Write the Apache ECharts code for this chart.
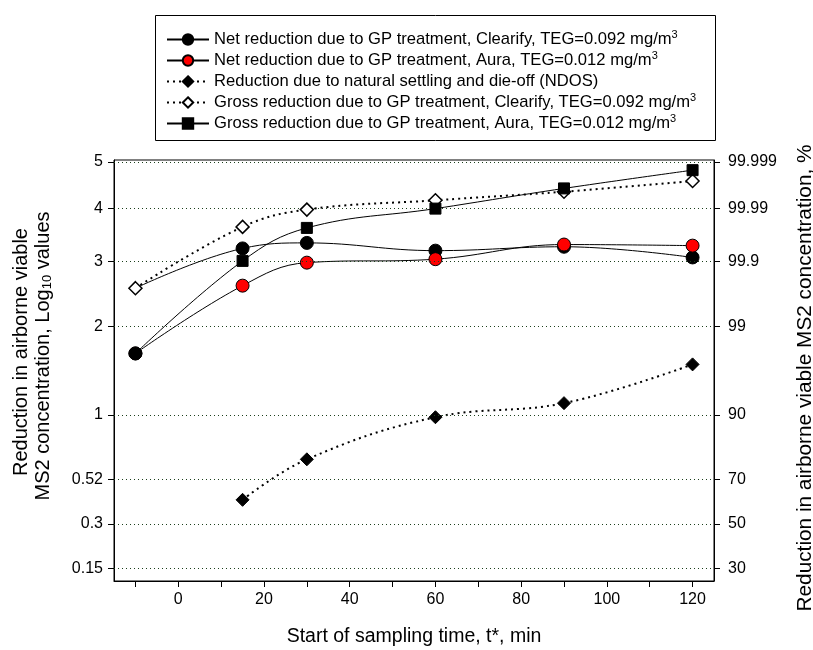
<!DOCTYPE html>
<html>
<head>
<meta charset="utf-8">
<script src="https://cdn.jsdelivr.net/npm/echarts@6/dist/echarts.min.js"></script>
<style>html,body{margin:0;padding:0;background:#fff;}#c{width:813px;height:650px;}</style>
</head>
<body>
<div id="c"></div>
<script>
// ---- data (log10 reduction values) ----
var times = [-10, 15, 30, 60, 90, 120];
var ndosTimes = [15, 30, 60, 90, 120];
var netClearify = [2.56, 3.23, 3.33, 3.19, 3.26, 3.07];
var netAura = [1.65, 2.60, 2.98, 3.04, 3.30, 3.28];
var ndos = [0.41, 0.65, 0.98, 1.11, 1.52];
var grossClearify = [2.56, 3.63, 3.97, 4.16, 4.34, 4.57];
var grossAura = [1.65, 3.01, 3.61, 3.99, 4.41, 4.81];

var xTicks = [-10, 0, 10, 20, 30, 40, 50, 60, 70, 80, 90, 100, 110, 120];
var xLabels = [0, 20, 40, 60, 80, 100, 120];
var pctTicks = [30, 50, 70, 90, 99, 99.9, 99.99, 99.999];
var logLabels = ['0.15', '0.3', '0.52', '1', '2', '3', '4', '5'];
var pctLabels = ['30', '50', '70', '90', '99', '99.9', '99.99', '99.999'];
var pctMin = 25, tailMax = 0.0000091;

var names = [
  'Net reduction due to GP treatment, Clearify, TEG=0.092 mg/m3',
  'Net reduction due to GP treatment, Aura, TEG=0.012 mg/m3',
  'Reduction due to natural settling and die-off (NDOS)',
  'Gross reduction due to GP treatment, Clearify, TEG=0.092 mg/m3',
  'Gross reduction due to GP treatment, Aura, TEG=0.012 mg/m3'
];

// ---- probability (probit) scale helpers ----
function probit(p) {
  var a = [-3.969683028665376e+01, 2.209460984245205e+02, -2.759285104469687e+02, 1.383577518672690e+02, -3.066479806614716e+01, 2.506628277459239e+00];
  var b = [-5.447609879822406e+01, 1.615858368580409e+02, -1.556989798598866e+02, 6.680131188771972e+01, -1.328068155288572e+01];
  var c = [-7.784894002430293e-03, -3.223964580411365e-01, -2.400758277161838e+00, -2.549732539343734e+00, 4.374664141464968e+00, 2.938163982698783e+00];
  var d = [7.784695709041462e-03, 3.224671290700398e-01, 2.445134137142996e+00, 3.754408661907416e+00];
  var plow = 0.02425, phigh = 1 - plow, q, r;
  if (p < plow) {
    q = Math.sqrt(-2 * Math.log(p));
    return (((((c[0]*q+c[1])*q+c[2])*q+c[3])*q+c[4])*q+c[5]) / ((((d[0]*q+d[1])*q+d[2])*q+d[3])*q+1);
  } else if (p <= phigh) {
    q = p - 0.5; r = q * q;
    return (((((a[0]*r+a[1])*r+a[2])*r+a[3])*r+a[4])*r+a[5])*q / (((((b[0]*r+b[1])*r+b[2])*r+b[3])*r+b[4])*r+1);
  } else {
    q = Math.sqrt(-2 * Math.log(1 - p));
    return -(((((c[0]*q+c[1])*q+c[2])*q+c[3])*q+c[4])*q+c[5]) / ((((d[0]*q+d[1])*q+d[2])*q+d[3])*q+1);
  }
}
function zFromTail(t) { return -probit(t); }
function zFromLog(v) { return zFromTail(Math.pow(10, -v)); }
function zFromPct(p) { return zFromTail(1 - p / 100); }

var yTickZ = pctTicks.map(zFromPct);
var yMin = zFromPct(pctMin), yMax = zFromTail(tailMax);
function nearestIdx(v) {
  var best = 0, bd = Infinity;
  for (var i = 0; i < yTickZ.length; i++) { var dd = Math.abs(yTickZ[i] - v); if (dd < bd) { bd = dd; best = i; } }
  return best;
}

function pts(xs, ys) { return xs.map(function (x, i) { return [x, zFromLog(ys[i])]; }); }

var FONT = '"Liberation Sans", Arial, sans-serif';
var netClearifyData = pts(times, netClearify);
netClearifyData[0] = { value: netClearifyData[0], symbol: 'none' };
var grossAuraData = pts(times, grossAura);
grossAuraData[0] = { value: grossAuraData[0], symbol: 'circle', symbolSize: 13 };

var dotted = [2, 4];

var chart = echarts.init(document.getElementById('c'), null, { renderer: 'canvas' });
chart.setOption({
  animation: false,
  backgroundColor: '#fff',
  textStyle: { fontFamily: FONT },
  grid: { left: 114, right: 99, top: 160, bottom: 69, show: true, borderColor: '#000', borderWidth: 1, backgroundColor: 'transparent' },
  legend: {
    orient: 'vertical', left: 166, top: 29, padding: 0,
    itemWidth: 42, itemHeight: 13, itemGap: 0,
    textStyle: {
      fontFamily: FONT, fontSize: 16.6, color: '#000', lineHeight: 21,
      rich: { sup: { fontFamily: FONT, fontSize: 11, color: '#000', lineHeight: 21, verticalAlign: 'top' } }
    },
    formatter: function (n) { return n.replace(/m3$/, 'm{sup|3}'); },
    data: names
  },
  xAxis: {
    type: 'value', min: -15, max: 125,
    axisLine: { show: true, onZero: false, lineStyle: { color: '#000', width: 1 } },
    axisTick: { show: true, customValues: xTicks, length: 6, lineStyle: { color: '#000' } },
    axisLabel: { customValues: xLabels, margin: 11, fontFamily: FONT, fontSize: 16, color: '#000' },
    splitLine: { show: false }
  },
  yAxis: [{
    type: 'value', min: yMin, max: yMax, position: 'left',
    axisLine: { show: true, onZero: false, lineStyle: { color: '#000', width: 1 } },
    axisTick: { show: true, customValues: yTickZ, length: 6, lineStyle: { color: '#000' } },
    axisLabel: { customValues: yTickZ, margin: 11, fontFamily: FONT, fontSize: 16, color: '#000',
      formatter: function (v) { return logLabels[nearestIdx(v)]; } },
    splitLine: { show: false }
  }, {
    type: 'value', min: yMin, max: yMax, position: 'right',
    axisLine: { show: true, onZero: false, lineStyle: { color: '#000', width: 1 } },
    axisTick: { show: true, customValues: yTickZ, length: 6, lineStyle: { color: '#000' } },
    axisLabel: { customValues: yTickZ, margin: 14, fontFamily: FONT, fontSize: 16, color: '#000',
      formatter: function (v) { return pctLabels[nearestIdx(v)]; } },
    splitLine: { show: false }
  }],
  graphic: [
    { type: 'rect', shape: { x: 155.5, y: 15.5, width: 560, height: 125 }, style: { fill: 'none', stroke: '#000', lineWidth: 1 }, z: 10 },
    { type: 'text', x: 21, y: 352, rotation: Math.PI / 2, style: { text: 'Reduction in airborne viable', font: '20px ' + FONT, fill: '#000', align: 'center', verticalAlign: 'middle' } },
    { type: 'text', x: 43, y: 356, rotation: Math.PI / 2, style: { text: 'MS2 concentration, Log{sub|10} values', font: '20px ' + FONT, fill: '#000', align: 'center', verticalAlign: 'middle',
        rich: { sub: { fontSize: 13, fontFamily: FONT, fill: '#000', padding: [9, 0, 0, 0] } } } },
    { type: 'text', x: 805, y: 378, rotation: Math.PI / 2, style: { text: 'Reduction in airborne viable MS2 concentration, %', font: '20.8px ' + FONT, fill: '#000', align: 'center', verticalAlign: 'middle' } },
    { type: 'text', x: 414, y: 637, style: { text: 'Start of sampling time, t*, min', font: '19.5px ' + FONT, fill: '#000', align: 'center', verticalAlign: 'middle' } }
  ],
  series: [
    {
      name: names[0], type: 'line', smooth: 0.4, data: netClearifyData,
      symbol: 'circle', symbolSize: 13,
      lineStyle: { color: '#000', width: 1 },
      itemStyle: { color: '#000', borderColor: '#000', borderWidth: 1 },
      markLine: {
        silent: true, symbol: 'none', label: { show: false }, animation: false,
        lineStyle: { color: '#1c3f1c', width: 1, type: [1, 3] },
        data: yTickZ.map(function (z) { return { yAxis: z }; })
      },
      z: 2
    },
    {
      name: names[1], type: 'line', smooth: 0.4, data: pts(times, netAura),
      symbol: 'circle', symbolSize: 13,
      lineStyle: { color: '#000', width: 1 },
      itemStyle: { color: '#ff0000', borderColor: '#000', borderWidth: 1 },
      z: 3
    },
    {
      name: names[2], type: 'line', smooth: 0.4, data: pts(ndosTimes, ndos),
      symbol: 'diamond', symbolSize: 13,
      lineStyle: { color: '#000', width: 2, type: dotted },
      itemStyle: { color: '#000', borderColor: '#000', borderWidth: 1 },
      z: 4
    },
    {
      name: names[3], type: 'line', smooth: 0.4, data: pts(times, grossClearify),
      symbol: 'diamond', symbolSize: 13,
      lineStyle: { color: '#000', width: 2, type: dotted },
      itemStyle: { color: '#fff', borderColor: '#000', borderWidth: 1.5 },
      z: 5
    },
    {
      name: names[4], type: 'line', smooth: 0.4, data: grossAuraData,
      symbol: 'rect', symbolSize: 11,
      lineStyle: { color: '#000', width: 1 },
      itemStyle: { color: '#000', borderColor: '#000', borderWidth: 1 },
      z: 6
    }
  ]
});
</script>
</body>
</html>
